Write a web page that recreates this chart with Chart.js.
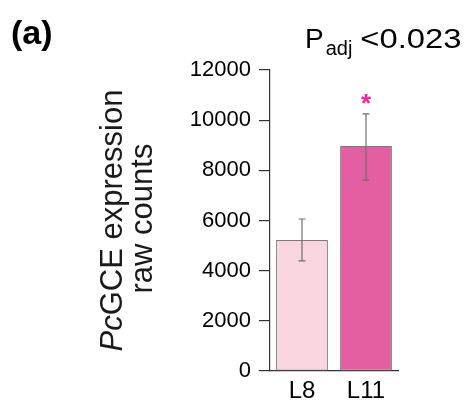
<!DOCTYPE html>
<html>
<head>
<meta charset="utf-8">
<script src="https://cdn.jsdelivr.net/npm/chart.js@4"></script>
<style>
  html, body { margin: 0; padding: 0; background: #fff; }
  #wrap { width: 464px; height: 401px; }
</style>
</head>
<body>
<div id="wrap"><canvas id="myChart" width="464" height="401"></canvas></div>
<script>
// data
var groups = ["L8", "L11"];
var counts = [5220, 8970];
var errLow = [4390, 7610];
var errHigh = [6060, 10250];
var signif = ["", "*"];
var barColors = ["#f8d5df", "#e45ea2"];
var yTicks = [0, 2000, 4000, 6000, 8000, 10000, 12000];

var FONT = "'Liberation Sans', Arial, Helvetica, sans-serif";

// error bars + star above them
const errorBars = {
	id: 'errorBars',
	afterDatasetsDraw(chart) {
		const ctx = chart.ctx;
		const xs = chart.scales.x, ys = chart.scales.y;
		ctx.save();
		for (var i = 0; i < groups.length; i++) {
			var x = xs.getPixelForValue(i);
			var yTop = ys.getPixelForValue(errHigh[i]);
			var yBot = ys.getPixelForValue(errLow[i]);
			ctx.strokeStyle = '#6e6e6e';
			ctx.lineWidth = 1.2;
			ctx.beginPath();
			ctx.moveTo(x, yTop); ctx.lineTo(x, yBot);
			ctx.moveTo(x - 3.5, yTop); ctx.lineTo(x + 3.5, yTop);
			ctx.moveTo(x - 3.5, yBot); ctx.lineTo(x + 3.5, yBot);
			ctx.stroke();
			if (signif[i]) {
				ctx.fillStyle = '#ff1f9b';
				ctx.font = 'bold 26px ' + FONT;
				ctx.textAlign = 'center';
				ctx.textBaseline = 'alphabetic';
				ctx.fillText(signif[i], x, yTop - 16.5 + 0.57 * 26);
			}
		}
		ctx.restore();
	}
};

// panel letter, p value and the y axis title
const labels = {
	id: 'labels',
	afterDraw(chart) {
		const ctx = chart.ctx;
		const ys = chart.scales.y;
		ctx.save();
		ctx.fillStyle = '#000';
		ctx.textBaseline = 'alphabetic';
		ctx.textAlign = 'left';

		ctx.font = 'bold 34px ' + FONT;
		ctx.fillText('(a)', 11, 44);

		ctx.font = '28px ' + FONT;
		ctx.fillText('P', 305, 48);
		var px = 305 + ctx.measureText('P').width + 2;
		ctx.font = '20px ' + FONT;
		ctx.fillText('adj', px, 55);
		px += ctx.measureText('adj').width + 8;
		// the value is set a bit wider than the P in the source
		ctx.font = '28px ' + FONT;
		ctx.save();
		ctx.translate(px, 48);
		ctx.scale(1.17, 1);
		ctx.fillText('<0.023', 0, 0);
		ctx.restore();

		// y title, two lines rotated
		var cy = (ys.top + ys.bottom) / 2;
		ctx.save();
		ctx.translate(122, cy);
		ctx.rotate(-Math.PI / 2);
		ctx.font = 'italic 31px ' + FONT;
		var w1 = ctx.measureText('Pc').width;
		ctx.font = '31px ' + FONT;
		var w2 = ctx.measureText('GCE expression').width;
		var sx = -(w1 + w2) / 2;
		ctx.fillStyle = '#1a1a1a';
		ctx.font = 'italic 31px ' + FONT;
		ctx.fillText('Pc', sx, 0);
		ctx.font = '31px ' + FONT;
		ctx.fillText('GCE expression', sx + w1, 0);
		ctx.restore();

		ctx.save();
		ctx.translate(152, cy - 2);
		ctx.rotate(-Math.PI / 2);
		ctx.fillStyle = '#1a1a1a';
		ctx.font = '31px ' + FONT;
		ctx.textAlign = 'center';
		ctx.fillText('raw counts', 0, 0);
		ctx.restore();

		ctx.restore();
	}
};

const data = {
	labels: groups,
	datasets: [{
		data: counts,
		backgroundColor: barColors,
		borderColor: '#7a7a7a',
		borderWidth: 1,
		borderSkipped: false,
		barPercentage: 0.81,
		categoryPercentage: 1.0
	}]
};

const config = {
	type: 'bar',
	data: data,
	options: {
		responsive: false,
		animation: false,
		layout: { padding: { top: 70, right: 66, left: 0, bottom: 0 } },
		plugins: {
			legend: { display: false },
			tooltip: { enabled: false }
		},
		scales: {
			x: {
				grid: { display: false, drawTicks: false },
				border: { display: true, color: '#333', width: 1.2 },
				ticks: { color: '#000', font: { family: FONT, size: 24 }, padding: 6 },
				afterFit: function(scale) { scale.height = 30; }
			},
			y: {
				min: 0,
				max: 12000,
				afterBuildTicks: function(scale) {
					scale.ticks = yTicks.map(function(v) { return { value: v }; });
				},
				grid: { drawOnChartArea: false, tickLength: 11, color: '#333', lineWidth: 1.2 },
				border: { display: true, color: '#333', width: 1.2 },
				ticks: {
					color: '#000', font: { family: FONT, size: 22 }, padding: 8,
					callback: function(v) { return String(v); }
				},
				afterFit: function(scale) { scale.width = 270; }
			}
		}
	},
	plugins: [errorBars, labels]
};

const myChart = new Chart(document.getElementById('myChart'), config);
</script>
</body>
</html>
